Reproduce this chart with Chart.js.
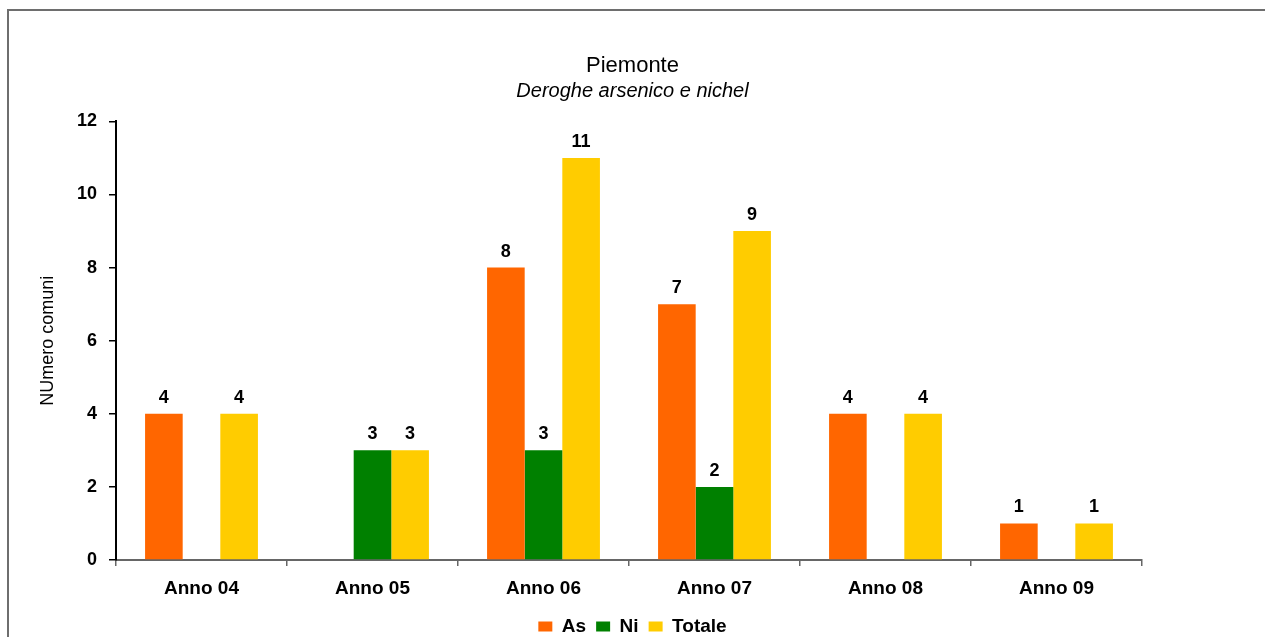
<!DOCTYPE html>
<html>
<head>
<meta charset="utf-8">
<script src="https://cdn.jsdelivr.net/npm/chart.js@4.4.0/dist/chart.umd.min.js"></script>
<style>
  html, body { margin: 0; padding: 0; background: #fff; }
  #wrap { width: 1265px; height: 637px; position: relative; }
</style>
</head>
<body>
<div id="wrap"><canvas id="chart" width="1265" height="637"></canvas></div>
<script>
// data
const categories = ['Anno 04', 'Anno 05', 'Anno 06', 'Anno 07', 'Anno 08', 'Anno 09'];
const asValues = [4, 0, 8, 7, 4, 1];
const niValues = [0, 3, 3, 2, 0, 0];
const totaleValues = [4, 3, 11, 9, 4, 1];
const yTicks = [0, 2, 4, 6, 8, 10, 12];

const FONT = "'Liberation Sans', Arial, sans-serif";

// value labels above bars (zeros are not shown)
const valueLabels = {
  id: 'valueLabels',
  afterDatasetsDraw(chart) {
    const ctx = chart.ctx;
    ctx.save();
    ctx.font = `bold 18px ${FONT}`;
    ctx.fillStyle = '#000';
    ctx.textAlign = 'center';
    ctx.textBaseline = 'bottom';
    chart.data.datasets.forEach((ds, i) => {
      chart.getDatasetMeta(i).data.forEach((bar, j) => {
        const v = ds.data[j];
        if (!v) return;
        ctx.fillText(String(v), bar.x, bar.y - 7);
      });
    });
    ctx.restore();
  }
};

// thin frame on top and left, like the original export
const frame = {
  id: 'frame',
  beforeDraw(chart) {
    const ctx = chart.ctx;
    ctx.save();
    ctx.strokeStyle = '#6e6e6e';
    ctx.lineWidth = 2;
    ctx.beginPath();
    ctx.moveTo(8, 637);
    ctx.lineTo(8, 10);
    ctx.lineTo(1265, 10);
    ctx.stroke();
    ctx.restore();
  }
};

new Chart(document.getElementById('chart'), {
  type: 'bar',
  data: {
    labels: categories,
    datasets: [
      { label: 'As', data: asValues, backgroundColor: '#FF6600' },
      { label: 'Ni', data: niValues, backgroundColor: '#008000' },
      { label: 'Totale', data: totaleValues, backgroundColor: '#FFCC00' }
    ]
  },
  options: {
    responsive: false,
    animation: false,
    layout: { padding: { left: 0, right: 0, top: 0, bottom: -9 } },
    datasets: { bar: { categoryPercentage: 0.66, barPercentage: 1 } },
    plugins: {
      title: {
        display: true,
        text: 'Piemonte',
        color: '#000',
        font: { family: FONT, size: 22, weight: 'normal' },
        padding: { top: 53, bottom: 0 }
      },
      subtitle: {
        display: true,
        text: 'Deroghe arsenico e nichel',
        color: '#000',
        font: { family: FONT, size: 20, style: 'italic' },
        padding: { top: 0, bottom: 18 }
      },
      legend: {
        position: 'bottom',
        labels: {
          color: '#000',
          font: { family: FONT, size: 19, weight: 'bold' },
          boxWidth: 14,
          boxHeight: 10,
          padding: 10
        }
      },
      tooltip: { enabled: false }
    },
    scales: {
      x: {
        grid: { offset: true, drawOnChartArea: false, color: '#666', tickLength: 6, lineWidth: 1.5 },
        border: { color: '#666', width: 2 },
        ticks: {
          color: '#000',
          font: { family: FONT, size: 19, weight: 'bold' },
          padding: 11,
          maxRotation: 0
        },
        afterFit(scale) { scale.height = 47; }
      },
      y: {
        min: 0,
        max: 12,
        afterBuildTicks(scale) { scale.ticks = yTicks.map(v => ({ value: v })); },
        grid: { drawOnChartArea: false, color: '#000', tickLength: 7, lineWidth: 1.5 },
        border: { color: '#000', width: 2 },
        ticks: {
          color: '#000',
          font: { family: FONT, size: 18, weight: 'bold' },
          padding: 12
        },
        title: {
          display: true,
          text: 'NUmero comuni',
          color: '#000',
          font: { family: FONT, size: 18, weight: 'normal' },
          padding: { top: 37, bottom: 0 }
        },
        afterFit(scale) { scale.width = 116; }
      },
      // empty right-hand spacer so the plot ends where the original does
      spacer: {
        type: 'linear',
        position: 'right',
        grid: { display: false },
        border: { display: false },
        ticks: { display: false },
        afterFit(scale) { scale.width = 123; }
      }
    }
  },
  plugins: [frame, valueLabels]
});
</script>
</body>
</html>
